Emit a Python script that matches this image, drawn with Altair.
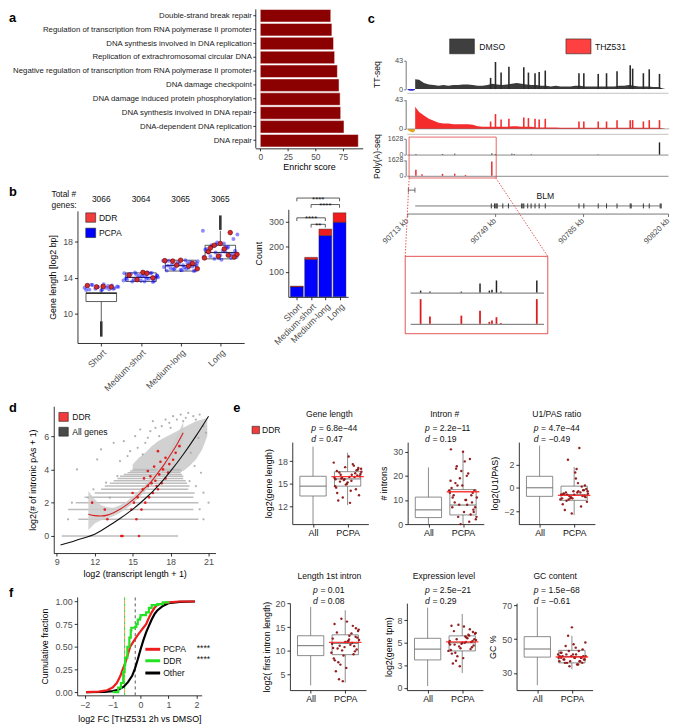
import altair as alt
import pandas as pd

W, H = 671, 719
FONT = "Liberation Sans"
DARKRED = "#8B0000"
RED = "#F23B3B"
BLUE = "#0000FF"
LBL = "#4D4D4D"
BOXC = "#6E6E6E"

# ---------------- panel a data ----------------
a_terms = ["Double-strand break repair",
           "Regulation of transcription from RNA polymerase II promoter",
           "DNA synthesis involved in DNA replication",
           "Replication of extrachromosomal circular DNA",
           "Negative regulation of transcription from RNA polymerase II promoter",
           "DNA damage checkpoint",
           "DNA damage induced protein phosphorylation",
           "DNA synthesis involved in DNA repair",
           "DNA-dependent DNA replication",
           "DNA repair"]
a_scores = [64, 65, 66.5, 67.5, 70, 71.5, 72.5, 73, 76, 89]

# ---------------- panel b data ----------------
b_cats = ["Short", "Medium-short", "Medium-long", "Long"]
b_totals = [3066, 3064, 3065, 3065]
b_whisk_lo = [9.2, 13.45, 14.65, 16.0]
b_q1 = [11.38, 13.6, 14.75, 16.1]
b_median = [12.28, 14.05, 15.35, 16.8]
b_q3 = [12.36, 14.55, 15.95, 17.6]
b_whisk_hi = [13.3, 14.65, 16.05, 19.2]
b_out_cat = [1, 4]
b_out_lo = [7.5, 19.3]
b_out_hi = [9.2, 20.9]
b_jit = [-0.42, -0.35, -0.3, -0.22, -0.15, -0.08, 0.0, 0.06, 0.12, 0.2, 0.27, 0.33, 0.4, -0.38, -0.25,
         -0.1, 0.03, 0.17, 0.3, 0.43, -0.32, -0.18, -0.04, 0.09, 0.24, 0.37, -0.44, -0.12, 0.14, 0.41]
b_short_y = [12.9, 13.1, 12.7, 13.2, 12.8, 13.0, 12.6, 13.3, 12.9, 12.75, 13.15, 12.85, 13.05, 12.65, 13.25,
             12.95, 12.7, 13.1, 12.8, 13.0]
b_mshort_y = [14.5, 13.8, 14.2, 13.6, 14.6, 14.0, 13.7, 14.4, 14.1, 13.9, 14.55, 13.65, 14.3, 13.95, 14.45,
              13.75, 14.15, 14.6, 13.55, 14.05, 14.35, 13.85, 14.25, 13.6, 14.5, 14.0, 13.7, 14.4, 13.9, 14.2]
b_mlong_y = [15.2, 14.8, 15.9, 15.5, 15.0, 15.7, 14.9, 15.4, 15.95, 15.1, 15.6, 14.75, 15.3, 15.8, 15.05,
             15.45, 14.85, 15.65, 15.25, 15.85, 15.35, 14.95, 15.55, 15.15, 15.75, 14.8, 15.9, 15.4, 15.0, 15.6]
b_long_y = [16.3, 17.2, 16.8, 17.6, 16.1, 17.9, 16.5, 17.0, 16.9, 17.4, 16.2, 18.3, 16.7, 17.1, 16.4,
            17.7, 16.0, 17.3, 16.6, 18.8, 16.9, 17.5, 16.2, 17.8, 16.5, 17.0, 19.2, 16.8, 17.4, 16.3]
b_ddr_cat = [1, 1, 1, 1, 2, 2, 2, 2, 2, 3, 3, 3, 3, 3, 3, 3, 4, 4, 4, 4, 4, 4, 4, 4, 4, 4, 4]
b_ddr_jit = [-0.35, 0.05, 0.25, -0.12, 0.05, 0.15, -0.3, 0.3, -0.1, -0.4, -0.2, 0.0, 0.3, 0.42, -0.1, 0.2,
             -0.4, -0.3, -0.15, 0.0, 0.2, 0.35, 0.1, 0.25, -0.05, 0.42, -0.25]
b_ddr_y = [13.15, 13.05, 13.0, 13.0, 14.6, 14.5, 14.3, 14.0, 13.8, 15.9, 15.85, 15.95, 15.6, 15.0, 15.4, 15.3,
           16.2, 16.9, 17.6, 17.8, 16.5, 16.3, 17.2, 19.0, 16.4, 16.6, 17.3]
bb_pcpa = [40, 150, 245, 298]
bb_ddr = [3, 8, 26, 38]
bb_sig_from = [1, 2, 1, 2]
bb_sig_to = [4, 4, 3, 3]
bb_sig_y = [395, 369, 316, 290]
bb_sig_lab = ["****", "****", "****", "**"]

# ---------------- panel c data ----------------
c_kb = [90716.4, 90718, 90720, 90722, 90724, 90726, 90728, 90730, 90732, 90734, 90736, 90738, 90740, 90742,
        90744, 90746, 90748, 90750, 90752, 90754, 90756, 90758, 90760, 90762, 90764, 90766, 90768, 90770,
        90772, 90774, 90776, 90778, 90780, 90782, 90784, 90786, 90788, 90790, 90792, 90794, 90796, 90798,
        90800, 90802, 90804, 90806, 90808, 90810, 90812, 90814, 90816, 90818, 90819]
c_dmso = [15, 14, 9, 7, 6, 5, 6, 5, 6, 6, 7, 7, 6, 5, 5, 6, 8, 7, 6, 7, 8, 9, 8, 7, 6, 6, 5, 5, 4, 5, 4, 4, 4,
          5, 5, 4, 4, 4, 4, 4, 4, 4, 5, 5, 6, 5, 4, 4, 4, 3, 3, 1, 0]
c_thz = [33, 25, 20, 15, 12, 9, 8, 8, 7, 7, 7, 7, 6, 4, 3, 3, 3, 3, 3, 3, 4, 4, 3, 3, 3, 2, 2, 2, 2, 2, 1.5,
         1.5, 1.5, 1.5, 1.5, 1.5, 1.5, 1.5, 1.5, 1.5, 1.5, 1.5, 1.5, 1.5, 1.5, 1.5, 1.5, 1.5, 1.5, 1.5, 1.5,
         0.5, 0]
c_as_kb = [90713.3, 90714.3, 90715.4, 90716.3]
c_as_dmso = [-1.5, -2.5, -2.5, -1.5]
c_as_thz = [-1.5, -4.0, -5.5, -3.0]
c_spike_kb = [90747.3, 90749.3, 90751.6, 90754.8, 90760.9, 90762.8, 90765.5, 90767.2, 90769.7, 90783.5,
              90785.5, 90791.4, 90794.8, 90799.1, 90804.5, 90805.5, 90809.9, 90812.3, 90816.5]
c_spike_dmso = [17, 41, 25, 34, 33, 25, 24, 26, 28, 24, 24, 23, 24, 27, 36, 31, 24, 30, 23]
c_spike_thz = [11, 22, 14, 15, 17, 16, 15, 14, 15, 11, 11, 11, 11, 13, 13, 13, 11, 13, 13]
c_pa_dmso_kb = [90716.7, 90727.6, 90732.6, 90747.8, 90749.3, 90756.0, 90757.0, 90764.0, 90791.4, 90816.5]
c_pa_dmso = [60, 60, 80, 120, 60, 80, 60, 40, 30, 1255]
c_pa_thz_kb = [90716.7, 90719.2, 90727.6, 90732.6, 90737.0, 90747.8]
c_pa_thz = [626, 150, 200, 220, 90, 1470]
c_exon_kb = [90747.6, 90748.9, 90750.0, 90752.3, 90754.6, 90760.0, 90762.5, 90763.9, 90765.5, 90767.2,
             90769.7, 90783.5, 90785.5, 90791.4, 90794.8, 90799.1, 90804.5, 90804.9, 90809.9, 90812.3]
c_exon_thick_kb = [90749.6, 90760.7, 90817.0]
c_gene = [90716.4, 90817.2]
c_zoom_kb = [90713.9, 90749.6]
c_in_kb = [90716.7, 90719.2, 90727.6, 90732.6, 90735.1, 90735.8, 90737.0, 90738.2, 90747.8]
c_in_dmso = [163, 81, 81, 757, 163, 244, 1001, 81, 1001]
c_in_thz = [1628, 475, 540, 866, 130, 215, 436, 60, 1628]
c_ticks = [90713, 90749, 90785, 90820]

# ---------------- panel d data ----------------
d_stripe_y = [0, 1, 1.585, 2, 2.322, 2.585, 2.807, 3, 3.17, 3.322, 3.459, 3.585, 3.7, 3.807, 3.907, 4.0]
d_stripe_x1 = [9.4, 10.7, 9.9, 10.5, 11.2, 12.0, 12.5, 12.8, 13.2, 13.5, 13.8, 14.0, 14.3, 14.6, 14.8, 15.0]
d_stripe_x2 = [18.6, 20.2, 19.8, 20.2, 19.8, 19.9, 19.4, 19.5, 19.3, 19.2, 19.0, 19.0, 18.9, 18.8, 18.9, 18.8]
d_cloud_x = [15.0, 15.5, 16.0, 16.5, 17.0, 17.5, 18.0, 18.5, 19.0, 19.5, 20.0, 20.5, 20.9]
d_cloud_lo = [3.9, 3.9, 3.9, 3.9, 3.9, 3.9, 3.9, 3.9, 3.9, 4.2, 4.6, 5.2, 6.0]
d_cloud_hi = [4.3, 4.7, 5.0, 5.4, 5.7, 5.9, 6.1, 6.3, 6.5, 6.7, 6.9, 7.0, 7.1]
d_gray_x = [10.6, 12.2, 12.5, 13.2, 11.5, 10.2, 9.9, 13.5, 14.3, 14.8, 15.2, 15.8, 16.0, 16.4, 16.8, 17.3,
            17.9, 18.5, 19.2, 19.8, 20.3, 20.6, 20.2, 20.8, 19.6, 19.9, 20.4, 19.5, 20.0, 20.6, 21.0, 20.3,
            20.6, 14.0, 14.6, 15.4, 16.2, 13.8, 12.9, 11.9, 15.6, 16.6, 17.6, 18.2, 18.8, 19.4, 17.1, 18.0,
            19.0, 20.0]
d_gray_y = [4.0, 4.6, 5.2, 2.3, 2.3, 2.0, 1.0, 5.6, 5.7, 5.1, 6.0, 4.9, 5.6, 6.3, 6.5, 6.6, 6.8, 7.0, 7.1,
            7.2, 7.3, 6.6, 5.9, 6.2, 5.0, 4.2, 3.8, 3.3, 3.0, 2.6, 2.0, 1.6, 1.0, 4.5, 4.8, 5.3, 5.9, 3.6,
            3.2, 2.8, 6.4, 6.9, 7.0, 7.2, 7.3, 7.4, 6.0, 6.5, 6.9, 7.0]
d_fit_x = [11.5, 12.0, 12.5, 13.0, 13.5, 14.0, 14.5, 15.0, 15.5, 16.0, 16.5, 17.0, 17.5, 18.0, 18.5, 19.0]
d_fit_y = [1.3, 1.22, 1.2, 1.25, 1.4, 1.6, 1.85, 2.15, 2.5, 2.9, 3.3, 3.8, 4.3, 4.9, 5.5, 6.2]
d_fit_lo = [0.35, 0.75, 0.95, 1.05, 1.2, 1.4, 1.65, 1.95, 2.3, 2.7, 3.1, 3.55, 4.0, 4.5, 5.0, 5.55]
d_fit_hi = [2.7, 2.2, 1.85, 1.72, 1.7, 1.85, 2.05, 2.35, 2.7, 3.1, 3.55, 4.05, 4.6, 5.3, 6.0, 6.85]
d_all_x = [9.3, 10, 11, 12, 13, 14, 15, 16, 17, 18, 19, 20, 21]
d_all_y = [-0.55, -0.4, -0.15, 0.1, 0.55, 1.05, 1.6, 2.25, 3.0, 3.9, 4.9, 6.0, 7.2]
d_ddr_x = [14.1, 14.2, 15.5, 13.0, 15.3, 11.8, 14.9, 15.7, 15.1, 16.0, 15.4, 16.3, 15.0, 16.6, 15.8, 17.0,
           16.2, 16.9, 16.5, 17.3, 16.8, 17.6, 16.4, 17.1, 17.8, 17.4, 16.7, 17.9, 17.2, 18.2, 17.6, 18.4,
           17.0, 16.2, 18.7, 15.9, 12.8]
d_ddr_y = [0, 0, 0, 1, 1, 2, 1.585, 1.585, 2, 2, 2.322, 2.322, 2.585, 2.585, 2.807, 2.807, 3, 3, 3.17, 3.17,
           3.322, 3.459, 3.585, 3.7, 3.807, 4, 4.17, 4.32, 4.46, 4.58, 4.7, 5.0, 5.1, 3.907, 5.4, 3.459, 1.585]

# ---------------- panel e data ----------------
e_titles = ["Gene length", "Intron #", "U1/PAS ratio", "Length 1st intron", "Expression level", "GC content"]
e_ytitles = ["log2(gene length)", "# introns", "log2(U1/PAS)", "log2( first intron length)",
             "log2(gene tpm)", "GC %"]
e_p = ["6.8e\u221244", "2.2e\u221211", "4.7e\u221244", "0.01", "2.5e\u221221", "1.5e\u221268"]
e_d = ["0.47", "0.19", "\u22120.49", "0.08", "0.29", "\u22120.61"]
e_domains = [[9.7, 20.5], [0, 34], [-3.1, 3.9], [1.7, 20.1], [-0.25, 9.4], [19.9, 71.3]]
e_ticks = [[12, 15, 18], [0, 10, 20, 30], [-2, 0, 2], [5, 10, 15, 20], [0, 2.5, 5, 7.5], [30, 50, 70]]
e_all = [[9.7, 13.4, 14.7, 16.0, 19.9], [0, 2.7, 5.9, 11.2, 23.5], [-3.1, -0.73, 0.0, 0.98, 3.6],
         [2.7, 9.0, 11.1, 13.2, 19.3], [0.2, 3.1, 4.3, 5.5, 8.9], [22.8, 39.4, 44.2, 51.5, 69.0]]
e_pcpa = [[12.2, 14.7, 15.65, 16.6, 19.1], [0, 3.8, 7.9, 14.3, 29.6], [-2.33, -1.07, -0.59, 0.14, 1.78],
          [3.3, 9.2, 11.6, 13.4, 18.6], [1.65, 4.1, 5.0, 5.77, 8.2], [32.3, 36.0, 39.8, 43.4, 52.0]]
e_mean = [15.95, 13.4, -0.65, 11.8, 5.1, 39.5]
e_jit = [-0.38, 0.12, -0.05, 0.31, -0.22, 0.4, -0.14, 0.05, 0.26, -0.33, 0.18, -0.09, 0.35, -0.27, 0.0,
         0.22, -0.4, 0.09, -0.18, 0.3, -0.02, 0.37, -0.3, 0.15, -0.11, 0.28, -0.36, 0.03, 0.2, -0.24,
         0.33, -0.07, 0.11, -0.31, 0.24, -0.16, 0.39, -0.2, 0.07, -0.35]
e_pts_gene = [15.8, 16.2, 14.9, 17.1, 15.3, 16.6, 13.2, 15.9, 16.8, 14.5, 17.4, 15.6, 16.0, 12.8, 15.2,
              16.4, 17.8, 14.1, 15.7, 16.9, 15.0, 16.3, 13.8, 17.6, 15.5, 16.1, 14.7, 18.6, 15.9, 16.5,
              13.5, 17.2, 15.4, 16.7, 14.3, 15.8, 17.0, 16.2, 12.5, 15.6]
e_pts_intron = [13, 8, 22, 5, 17, 11, 3, 26, 9, 15, 1, 19, 7, 12, 30, 4, 14, 10, 24, 6, 16, 2, 11, 21, 8,
                13, 18, 5, 27, 9, 14, 0, 20, 7, 12, 16, 3, 23, 10, 31]
e_pts_u1 = [-0.6, -0.3, -0.9, 0.2, -1.1, -0.5, -0.7, 0.8, -0.2, -1.4, -0.4, -0.8, -0.1, -1.9, -0.6, 0.1,
            -1.0, -0.4, 2.4, -0.7, -0.3, -1.2, -0.5, 3.4, -0.9, -0.2, -0.6, 1.3, -1.6, -0.4, -0.8, -2.2,
            0.4, -0.5, -0.7, -1.0, -0.3, -0.6, 1.6, -0.9]
e_pts_first = [11.5, 13.2, 9.0, 14.8, 10.5, 12.3, 7.1, 16.2, 11.0, 8.4, 13.7, 10.1, 12.8, 5.7, 11.9, 15.3,
               9.6, 12.1, 4.0, 13.0, 10.8, 14.2, 8.0, 11.3, 16.8, 9.9, 12.6, 6.4, 11.7, 13.9, 10.3, 3.6,
               12.4, 15.7, 9.3, 11.1, 14.5, 7.6, 12.0, 10.6]
e_pts_expr = [5.0, 5.6, 4.4, 6.2, 4.8, 5.3, 3.5, 6.8, 5.1, 4.2, 5.9, 4.6, 5.4, 2.7, 5.0, 6.5, 4.1, 5.7, 3.0,
              5.2, 4.9, 6.0, 3.8, 5.5, 7.0, 4.5, 5.2, 3.3, 5.8, 6.3, 4.7, 2.4, 5.1, 6.9, 4.3, 5.4, 6.1, 3.9,
              5.0, 4.8]
e_pts_gc = [39, 41, 37, 44, 38, 40, 36, 47, 39, 42, 35, 43, 38, 40, 57, 37, 41, 39, 46, 36, 40, 38, 42, 35,
            52, 39, 37, 41, 43, 38, 40, 34, 45, 39, 37, 41, 48, 36, 39, 40]

# ---------------- panel f data ----------------
f_pcpa_x = [-1.95, -1.5, -1.2, -1.0, -0.85, -0.72, -0.64, -0.55, -0.45, -0.37, -0.25, -0.12, 0.0, 0.1, 0.2,
            0.3, 0.4, 0.5, 0.6, 0.8, 1.0, 1.4, 1.95]
f_pcpa_y = [0.0, 0.005, 0.02, 0.05, 0.1, 0.18, 0.25, 0.32, 0.42, 0.5, 0.56, 0.62, 0.67, 0.71, 0.75, 0.82,
            0.88, 0.93, 0.96, 0.98, 0.99, 1.0, 1.0]
f_ddr_x = [-1.0, -0.8, -0.7, -0.62, -0.57, -0.55, -0.47, -0.4, -0.35, -0.33, -0.2, -0.15, -0.1, -0.02, 0.0,
           0.2, 0.3, 0.4, 0.6, 0.8, 1.0]
f_ddr_y = [0.0, 0.05, 0.1, 0.22, 0.3, 0.38, 0.5, 0.6, 0.68, 0.71, 0.72, 0.75, 0.8, 0.82, 0.85, 0.88, 0.93,
           0.96, 0.97, 0.99, 1.0]
f_other_x = [-1.95, -1.3, -1.0, -0.8, -0.6, -0.45, -0.3, -0.2, -0.1, 0.0, 0.1, 0.2, 0.3, 0.4, 0.5, 0.6, 0.8,
             1.0, 1.4, 1.95]
f_other_y = [0.0, 0.002, 0.01, 0.025, 0.06, 0.11, 0.18, 0.26, 0.36, 0.47, 0.57, 0.66, 0.73, 0.8, 0.86, 0.9,
             0.95, 0.98, 0.995, 1.0]
f_median_pcpa = -0.57
f_median_other = -0.19


# ================= helpers =================
def X(v):
    return v - 8


def Y(v):
    return v - 8


def sx(domain, left, right):
    return alt.Scale(domain=domain, range=[X(left), X(right)], nice=False, zero=False)


def sy(domain, bottom, top):
    return alt.Scale(domain=domain, range=[Y(bottom), Y(top)], nice=False, zero=False)


def xaxis(at, **kw):
    kw.setdefault("title", None)
    return alt.Axis(orient="bottom", offset=Y(at) - H, **kw)


def yaxis(at, **kw):
    kw.setdefault("title", None)
    return alt.Axis(orient="left", offset=-X(at), **kw)


def XQ(f, sc, ax):
    return alt.X(f, type="quantitative", scale=sc, axis=ax)


def YQ(f, sc, ax):
    return alt.Y(f, type="quantitative", scale=sc, axis=ax)


def texts(rows, **mark):
    df = pd.DataFrame(rows, columns=["px", "py", "t"])
    df["px"] = df["px"] - 8
    df["py"] = df["py"] - 8
    mark.setdefault("fontSize", 8.5)
    mark.setdefault("baseline", "middle")
    return alt.Chart(df).mark_text(font=FONT, **mark).encode(
        x=alt.X("px:Q", scale=None, axis=None), y=alt.Y("py:Q", scale=None, axis=None), text="t:N")


def boxes(rows, **mark):
    df = pd.DataFrame(rows, columns=["x1", "x2", "y1", "y2", "f"])
    for c in ["x1", "x2", "y1", "y2"]:
        df[c] = df[c] - 8
    return alt.Chart(df).mark_rect(**mark).encode(
        x=alt.X("x1:Q", scale=None, axis=None), x2="x2",
        y=alt.Y("y1:Q", scale=None, axis=None), y2="y2",
        fill=alt.Fill("f:N", scale=None, legend=None))


def segs(rows, **mark):
    df = pd.DataFrame(rows, columns=["x1", "y1", "x2", "y2", "c"])
    for c in ["x1", "x2", "y1", "y2"]:
        df[c] = df[c] - 8
    return alt.Chart(df).mark_rule(**mark).encode(
        x=alt.X("x1:Q", scale=None, axis=None), x2="x2",
        y=alt.Y("y1:Q", scale=None, axis=None), y2="y2",
        color=alt.Color("c:N", scale=None, legend=None))


children = []

# ================= panel a =================
dfa = pd.DataFrame({"term": a_terms, "score": a_scores, "base": 0})
a_xs = sx([-4.5, 93], 258.3, 367)
a_ax = xaxis(145.7, values=[0, 25, 50, 75], title="Enrichr score", titlePadding=2, tickSize=2.5,
             labelPadding=1.5)
a_ay = yaxis(258.3, labelFontSize=7.9, labelColor="#1a1a1a", tickSize=2.5, labelPadding=1.5, labelLimit=400)
children.append(alt.Chart(dfa).mark_bar(color=DARKRED, stroke="white", strokeWidth=0.5).encode(
    x=XQ("score", a_xs, a_ax), x2="base",
    y=alt.Y("term:N", sort=a_terms,
            scale=alt.Scale(domain=a_terms, range=[Y(4.5), Y(145)], paddingInner=0.1, paddingOuter=0.05),
            axis=a_ay)))

# ================= panel b (box + jitter) =================
b_xs = sx([0.4, 4.6], 78.3, 247)
b_ys = sy([6.8, 21.4], 342.7, 209)
b_ax = xaxis(342.7, values=[1, 2, 3, 4],
             labelExpr="['','Short','Medium-short','Medium-long','Long'][datum.value]",
             labelAngle=-45, labelAlign="right", labelBaseline="top", labelFontSize=9)
b_ay = yaxis(78.3, values=[10, 14, 18], title="Gene length [log2 bp]", labelFontSize=9, titlePadding=5)
dfb = pd.DataFrame({"i": [1, 2, 3, 4], "lo": b_whisk_lo, "q1": b_q1, "med": b_median, "q3": b_q3,
                    "hi": b_whisk_hi, "n": [str(v) for v in b_totals]})
dfb["xl"] = dfb["i"] - 0.385
dfb["xr"] = dfb["i"] + 0.385
dfo = pd.DataFrame({"i": b_out_cat, "lo": b_out_lo, "hi": b_out_hi})
rows = []
for k, ys in enumerate([b_short_y, b_mshort_y, b_mlong_y, b_long_y], start=1):
    for j, v in enumerate(ys):
        rows.append({"x": k + b_jit[j], "y": v})
dfbp = pd.DataFrame(rows)
dfbd = pd.DataFrame({"x": [c + j for c, j in zip(b_ddr_cat, b_ddr_jit)], "y": b_ddr_y})
children.append(alt.layer(
    alt.Chart(dfb).mark_rule(color="#333", strokeWidth=0.8).encode(
        x=XQ("i", b_xs, b_ax), y=YQ("lo", b_ys, b_ay), y2="hi"),
    alt.Chart(dfo).mark_rule(color="#111", strokeWidth=2.6, opacity=0.85).encode(
        x=XQ("i", b_xs, b_ax), y=YQ("lo", b_ys, b_ay), y2="hi"),
    alt.Chart(dfb).mark_rect(fill="white", stroke="#333", strokeWidth=0.8).encode(
        x=XQ("xl", b_xs, b_ax), x2="xr", y=YQ("q1", b_ys, b_ay), y2="q3"),
    alt.Chart(dfb).mark_rule(color="#333", strokeWidth=1.2).encode(
        x=XQ("xl", b_xs, b_ax), x2="xr", y=YQ("med", b_ys, b_ay)),
    alt.Chart(dfbp).mark_circle(size=16, color=BLUE, opacity=0.45).encode(
        x=XQ("x", b_xs, b_ax), y=YQ("y", b_ys, b_ay)),
    alt.Chart(dfbd).mark_point(filled=True, size=22, fill="#D42A2A", stroke="#6A0000", strokeWidth=0.6,
                                opacity=1).encode(
        x=XQ("x", b_xs, b_ax), y=YQ("y", b_ys, b_ay)),
    alt.Chart(dfb).mark_text(font=FONT, fontSize=8.5, color="#111").encode(
        x=XQ("i", b_xs, b_ax), y=alt.value(Y(196.7)), text="n:N"),
))

# ---- panel b bar chart ----
bb_xs = sx([0.4, 4.6], 291.7, 352.2)
bb_ys = sy([0, 350], 296, 207.4)
bb_ax = xaxis(296, values=[1, 2, 3, 4],
              labelExpr="['','Short','Medium-short','Medium-long','Long'][datum.value]",
              labelAngle=-45, labelAlign="right", labelBaseline="top", labelFontSize=9)
bb_ay = yaxis(291.7, values=[100, 200, 300], title="Count", labelFontSize=9, titlePadding=5)
rows = []
for k in range(4):
    rows.append({"i": k + 1, "lo": 0, "hi": bb_pcpa[k], "g": BLUE})
    rows.append({"i": k + 1, "lo": bb_pcpa[k], "hi": bb_pcpa[k] + bb_ddr[k], "g": "#EE1C1C"})
dfbb = pd.DataFrame(rows)
dfbb["xl"] = dfbb["i"] - 0.45
dfbb["xr"] = dfbb["i"] + 0.45
dfs = pd.DataFrame({"a": bb_sig_from, "b": bb_sig_to, "y": bb_sig_y, "lab": bb_sig_lab})
dfs["ytick"] = dfs["y"] - 13
dfs["mid"] = (dfs["a"] + dfs["b"]) / 2
children.append(alt.layer(
    alt.Chart(dfbb).mark_rect(stroke="#222", strokeWidth=0.4).encode(
        x=XQ("xl", bb_xs, bb_ax), x2="xr", y=YQ("lo", bb_ys, bb_ay), y2="hi",
        fill=alt.Fill("g:N", scale=None, legend=None)),
    alt.Chart(dfs).mark_rule(color="#333", strokeWidth=0.8).encode(
        x=XQ("a", bb_xs, bb_ax), x2="b", y=YQ("y", bb_ys, bb_ay)),
    alt.Chart(dfs).mark_rule(color="#333", strokeWidth=0.8).encode(
        x=XQ("a", bb_xs, bb_ax), y=YQ("y", bb_ys, bb_ay), y2="ytick"),
    alt.Chart(dfs).mark_rule(color="#333", strokeWidth=0.8).encode(
        x=XQ("b", bb_xs, bb_ax), y=YQ("y", bb_ys, bb_ay), y2="ytick"),
    alt.Chart(dfs).mark_text(font=FONT, fontSize=8, baseline="alphabetic", dy=3.5, color="#111").encode(
        x=XQ("mid", bb_xs, bb_ax), y=YQ("y", bb_ys, bb_ay), text="lab:N"),
))

# ================= panel c =================
def c_xs():
    return sx([90713, 90820], 411.7, 676)


noax = None
df_t = pd.DataFrame({"kb": c_kb, "d": c_dmso, "t": c_thz, "z": 0})
df_as = pd.DataFrame({"kb": c_as_kb, "d": c_as_dmso, "t": c_as_thz, "z": 0})
df_sp = pd.DataFrame({"kb": c_spike_kb, "d": c_spike_dmso, "t": c_spike_thz, "z": 0})


def track_yaxis(vals, fs):
    return yaxis(410.5, values=vals, format="d", labelFontSize=fs, tickSize=2, labelPadding=1,
                 domainColor="#555", tickColor="#555")


# track 1 (DMSO TT-seq)
t1y = sy([0, 43], 85.7, 57)
t1ay = track_yaxis([0, 43], 7.5)
t1ax = xaxis(89.5, labels=False, ticks=False, domainColor="#999", domainWidth=0.6)
children.append(alt.layer(
    alt.Chart(df_t).mark_area(color="#3A3A3A").encode(x=XQ("kb", c_xs(), t1ax), y=YQ("d", t1y, t1ay), y2="z"),
    alt.Chart(df_as).mark_area(color="#2B2BD0").encode(x=XQ("kb", c_xs(), t1ax), y=YQ("d", t1y, t1ay), y2="z"),
    alt.Chart(df_sp).mark_rule(color="#2A2A2A", strokeWidth=1.6).encode(
        x=XQ("kb", c_xs(), t1ax), y=YQ("z", t1y, t1ay), y2="d"),
))
# track 2 (THZ531 TT-seq)
t2y = sy([0, 43], 126, 96.7)
t2ay = track_yaxis([0, 43], 7.5)
t2ax = xaxis(131, labels=False, ticks=False, domainColor="#999", domainWidth=0.6)
children.append(alt.layer(
    alt.Chart(df_t).mark_area(color="#F42C2C").encode(x=XQ("kb", c_xs(), t2ax), y=YQ("t", t2y, t2ay), y2="z"),
    alt.Chart(df_as).mark_area(color="#E6A820").encode(x=XQ("kb", c_xs(), t2ax), y=YQ("t", t2y, t2ay), y2="z"),
    alt.Chart(df_sp).mark_rule(color="#F42C2C", strokeWidth=1.6).encode(
        x=XQ("kb", c_xs(), t2ax), y=YQ("z", t2y, t2ay), y2="t"),
    alt.Chart(pd.DataFrame({"kb": [90713.2, 90820.5], "z": 0})).mark_line(color="#777", strokeWidth=0.6).encode(
        x=XQ("kb", c_xs(), t2ax), y=YQ("z", t2y, t2ay)),
))
# track 3 (DMSO polyA)
t3y = sy([0, 1628], 152, 136)
t3ay = track_yaxis([0, 1628], 7)
t3ax = xaxis(152, labels=False, ticks=False, domainColor="#555", domainWidth=0.7)
df_p3 = pd.DataFrame({"kb": c_pa_dmso_kb, "v": c_pa_dmso, "z": 0})
children.append(alt.layer(
    alt.Chart(df_p3).mark_rule(color="#222", strokeWidth=1.4).encode(
        x=XQ("kb", c_xs(), t3ax), y=YQ("z", t3y, t3ay), y2="v"),
))
# track 4 (THZ polyA) + zoom box
t4y = sy([0, 1628], 173.5, 157.5)
t4ay = track_yaxis([0, 1628], 7)
t4ax = xaxis(173.5, labels=False, ticks=False, domainColor="#555", domainWidth=0.7)
df_p4 = pd.DataFrame({"kb": c_pa_thz_kb, "v": c_pa_thz, "z": 0})
df_zb = pd.DataFrame({"a": [c_zoom_kb[0]], "b": [c_zoom_kb[1]]})
children.append(alt.layer(
    alt.Chart(df_p4).mark_rule(color="#E02020", strokeWidth=1.4).encode(
        x=XQ("kb", c_xs(), t4ax), y=YQ("z", t4y, t4ay), y2="v"),
    alt.Chart(df_zb).mark_rect(fillOpacity=0, fill="white", stroke="#E04040", strokeWidth=0.8).encode(
        x=XQ("a", c_xs(), t4ax), x2="b", y=alt.value(Y(134.3)), y2=alt.value(Y(175.7))),
))
# gene model + genomic axis
g_ax = xaxis(211.7, values=c_ticks, labelExpr="format(datum.value, 'd') + ' kb'", labelAngle=-45,
             labelAlign="right", labelBaseline="middle", labelPadding=3, labelFontSize=8, tickSize=3,
             domainColor="#555", tickColor="#555")
df_gene = pd.DataFrame({"a": [c_gene[0]], "b": [c_gene[1]]})
df_ex = pd.DataFrame({"kb": c_exon_kb})
df_ext = pd.DataFrame({"kb": c_exon_thick_kb})
df_small = pd.DataFrame({"a": [90713.6], "b": [90716.3]})
children.append(alt.layer(
    alt.Chart(df_gene).mark_rule(color="#555", strokeWidth=0.8).encode(
        x=XQ("a", c_xs(), g_ax), x2="b", y=alt.value(Y(204))),
    alt.Chart(df_ex).mark_rule(color="#333", strokeWidth=1).encode(
        x=XQ("kb", c_xs(), g_ax), y=alt.value(Y(201.5)), y2=alt.value(Y(206.5))),
    alt.Chart(df_ext).mark_rule(color="#555", strokeWidth=2.2).encode(
        x=XQ("kb", c_xs(), g_ax), y=alt.value(Y(201.5)), y2=alt.value(Y(206.5))),
    alt.Chart(df_small).mark_rule(color="#444", strokeWidth=0.8).encode(
        x=XQ("a", c_xs(), g_ax), x2="b", y=alt.value(Y(188))),
    alt.Chart(df_small).mark_rule(color="#444", strokeWidth=0.8).encode(
        x=XQ("a", c_xs(), g_ax), y=alt.value(Y(185.5)), y2=alt.value(Y(190.5))),
    alt.Chart(df_small).mark_rule(color="#444", strokeWidth=0.8).encode(
        x=XQ("b", c_xs(), g_ax), y=alt.value(Y(185.5)), y2=alt.value(Y(190.5))),
))
# inset
df_in = pd.DataFrame({"kb": c_in_kb, "d": c_in_dmso, "t": c_in_thz, "z": 0})
in_xs = sx(c_zoom_kb, 415, 550)
in1y = sy([0, 1628], 291.7, 271.7)
in2y = sy([0, 1628], 323.3, 298.3)
in1ax = xaxis(291.7, labels=False, ticks=False, domainColor="#444", domainWidth=0.8)
in2ax = xaxis(323.3, labels=False, ticks=False, domainColor="#444", domainWidth=0.8)
children.append(alt.Chart(df_in).mark_rule(color="#222", strokeWidth=1.5).encode(
    x=XQ("kb", in_xs, in1ax), y=YQ("z", in1y, noax), y2="d"))
children.append(alt.Chart(df_in).mark_rule(color="#D81E1E", strokeWidth=1.8).encode(
    x=XQ("kb", sx(c_zoom_kb, 415, 550), in2ax), y=YQ("z", in2y, noax), y2="t"))
children.append(boxes([(410, 554.3, 255, 333.3, "white")], fillOpacity=0, stroke="#E04040", strokeWidth=0.9))
children.append(segs([(414, 175.7, 410, 255, "#E04040"), (501.7, 175.7, 554.3, 255, "#E04040")],
                     strokeDash=[1.5, 1.5], strokeWidth=0.9))

# ================= panel d =================
d_xs = sx([8.765, 21.55], 54.3, 218)
d_ys = sy([-1.03, 7.8], 555.3, 406.7)
d_ax = xaxis(555.3, values=[9, 12, 15, 18, 21], title="log2 (transcript length + 1)", labelFontSize=9,
             titlePadding=3)
d_ay = yaxis(54.3, values=[0, 2, 4, 6], title="log2(# of intronic pAs + 1)", labelFontSize=9, titlePadding=6)
df_st = pd.DataFrame({"y": d_stripe_y, "a": d_stripe_x1, "b": d_stripe_x2})
df_cl = pd.DataFrame({"x": d_cloud_x, "lo": d_cloud_lo, "hi": d_cloud_hi})
df_g = pd.DataFrame({"x": d_gray_x, "y": d_gray_y})
df_fit = pd.DataFrame({"x": d_fit_x, "y": d_fit_y, "lo": d_fit_lo, "hi": d_fit_hi})
df_all = pd.DataFrame({"x": d_all_x, "y": d_all_y})
df_dd = pd.DataFrame({"x": d_ddr_x, "y": d_ddr_y})
children.append(alt.layer(
    alt.Chart(df_cl).mark_area(color="#C2C2C2", opacity=0.75).encode(
        x=XQ("x", d_xs, d_ax), y=YQ("lo", d_ys, d_ay), y2="hi"),
    alt.Chart(df_st).mark_rule(color="#BDBDBD", strokeWidth=1.5).encode(
        x=XQ("a", d_xs, d_ax), x2="b", y=YQ("y", d_ys, d_ay)),
    alt.Chart(df_g).mark_circle(size=5, color="#A8A8A8", opacity=0.9).encode(
        x=XQ("x", d_xs, d_ax), y=YQ("y", d_ys, d_ay)),
    alt.Chart(df_fit).mark_area(color="#CDCDCD", opacity=0.85).encode(
        x=XQ("x", d_xs, d_ax), y=YQ("lo", d_ys, d_ay), y2="hi"),
    alt.Chart(df_dd).mark_circle(size=7, color="#E02020", opacity=1).encode(
        x=XQ("x", d_xs, d_ax), y=YQ("y", d_ys, d_ay)),
    alt.Chart(df_fit).mark_line(color="#D42020", strokeWidth=1.1, interpolate="monotone").encode(
        x=XQ("x", d_xs, d_ax), y=YQ("y", d_ys, d_ay)),
    alt.Chart(df_all).mark_line(color="#111", strokeWidth=1.1, interpolate="monotone").encode(
        x=XQ("x", d_xs, d_ax), y=YQ("y", d_ys, d_ay)),
))

# ================= panel e =================
e_pts = [e_pts_gene, e_pts_intron, e_pts_u1, e_pts_first, e_pts_expr, e_pts_gc]
e_axis_x = [295.7, 412.5, 525, 293.3, 411.7, 522.7]
e_rows = [(443, 526), (606, 694)]
e_title_cx = [333.3, 450, 563.3, 333.3, 449.3, 561.7]
e_pd_x = [315, 430, 540, 316.7, 430, 540]
e_title_y = [415, 415, 415, 579, 579, 579]


def e_panel(k):
    ax0 = e_axis_x[k]
    top, bottom = e_rows[k // 3]
    xs = sx([0.4, 2.6], ax0, ax0 + 77)
    ys = sy(e_domains[k], bottom, top)
    xax = xaxis(bottom, values=[1, 2], labelExpr="datum.value == 1 ? 'All' : 'PCPA'", labelColor="#111",
                labelFontSize=9)
    yax = yaxis(ax0, values=e_ticks[k], title=e_ytitles[k], labelFontSize=9, titlePadding=4)
    st = pd.DataFrame({"i": [1, 2],
                       "lo": [e_all[k][0], e_pcpa[k][0]], "q1": [e_all[k][1], e_pcpa[k][1]],
                       "med": [e_all[k][2], e_pcpa[k][2]], "q3": [e_all[k][3], e_pcpa[k][3]],
                       "hi": [e_all[k][4], e_pcpa[k][4]]})
    st["xl"] = st["i"] - 0.38
    st["xr"] = st["i"] + 0.38
    pts = pd.DataFrame({"x": [2 + j for j in e_jit], "y": e_pts[k]})
    mn = pd.DataFrame({"xl": [1.53], "xr": [2.47], "m": [e_mean[k]]})
    return alt.layer(
        alt.Chart(st).mark_rule(color=BOXC, strokeWidth=0.8).encode(
            x=XQ("i", xs, xax), y=YQ("lo", ys, yax), y2="hi"),
        alt.Chart(st).mark_rect(fill="white", stroke=BOXC, strokeWidth=0.8).encode(
            x=XQ("xl", xs, xax), x2="xr", y=YQ("q1", ys, yax), y2="q3"),
        alt.Chart(st).mark_rule(color=BOXC, strokeWidth=1.0).encode(
            x=XQ("xl", xs, xax), x2="xr", y=YQ("med", ys, yax)),
        alt.Chart(pts).mark_circle(size=6, color="#8E1414", opacity=0.95).encode(
            x=XQ("x", xs, xax), y=YQ("y", ys, yax)),
        alt.Chart(mn).mark_rule(color="#FF1A1A", strokeWidth=1.4, opacity=0.85).encode(
            x=XQ("xl", xs, xax), x2="xr", y=YQ("m", ys, yax)),
    )


for k in range(6):
    children.append(e_panel(k))

e_text_rows = []
e_ital_rows = []
e_pd_rows = []
for k in range(6):
    e_text_rows.append((e_title_cx[k], e_title_y[k], e_titles[k]))
    e_ital_rows.append((e_pd_x[k], e_title_y[k] + 13.3, "p"))
    e_ital_rows.append((e_pd_x[k], e_title_y[k] + 24.5, "d"))
    e_pd_rows.append((e_pd_x[k] + 7.5, e_title_y[k] + 13.3, "= " + e_p[k]))
    e_pd_rows.append((e_pd_x[k] + 7.5, e_title_y[k] + 24.5, "= " + e_d[k]))
children.append(texts(e_text_rows, fontSize=8.7, align="center", color="#111"))
children.append(texts(e_ital_rows, fontSize=8.7, align="left", fontStyle="italic", color="#111"))
children.append(texts(e_pd_rows, fontSize=8.7, align="left", color="#111"))

# ================= panel f =================
f_xs = sx([-2.27, 2.19], 78, 204)
f_ys = sy([-0.036, 1.05], 699.3, 599.7)
f_ax = xaxis(699.3, values=[-2, -1, 0, 1, 2], title="log2 FC [THZ531 2h vs DMSO]", labelFontSize=9,
             titlePadding=5)
f_ay = yaxis(78, values=[0, 0.25, 0.5, 0.75, 1.0], format=".2f", title="Cumulative fraction", labelFontSize=9,
             titlePadding=5)
df_fo = pd.DataFrame({"x": f_other_x, "y": f_other_y})
df_fp = pd.DataFrame({"x": f_pcpa_x, "y": f_pcpa_y})
df_fd = pd.DataFrame({"x": f_ddr_x, "y": f_ddr_y})
df_vl = pd.DataFrame({"x": [f_median_pcpa], "y1": [-0.036], "y2": [1.05]})
df_vo = pd.DataFrame({"x": [f_median_other], "y1": [-0.036], "y2": [1.05]})
children.append(alt.layer(
    alt.Chart(df_vl).mark_rule(color="#2ECC40", strokeWidth=1, strokeDash=[3, 3]).encode(
        x=XQ("x", f_xs, f_ax), y=YQ("y1", f_ys, f_ay), y2="y2"),
    alt.Chart(df_vl).mark_rule(color="#E8A030", strokeWidth=1, strokeDash=[3, 3], strokeDashOffset=3).encode(
        x=XQ("x", f_xs, f_ax), y=YQ("y1", f_ys, f_ay), y2="y2"),
    alt.Chart(df_vo).mark_rule(color="#555", strokeWidth=1, strokeDash=[3, 3]).encode(
        x=XQ("x", f_xs, f_ax), y=YQ("y1", f_ys, f_ay), y2="y2"),
    alt.Chart(df_fo).mark_line(color="#000", strokeWidth=2.2).encode(
        x=XQ("x", f_xs, f_ax), y=YQ("y", f_ys, f_ay)),
    alt.Chart(df_fp).mark_line(color="#EE1C1C", strokeWidth=2.2).encode(
        x=XQ("x", f_xs, f_ax), y=YQ("y", f_ys, f_ay)),
    alt.Chart(df_fd).mark_line(color="#22E222", strokeWidth=2.2, interpolate="step-after").encode(
        x=XQ("x", f_xs, f_ax), y=YQ("y", f_ys, f_ay)),
))

# ================= annotations: letters, legends, labels =================
children.append(texts([(9, 14, "a"), (9, 190, "b"), (372, 15, "c"), (9, 409, "d"), (236, 409, "e"),
                       (9, 596, "f")], fontSize=13, fontWeight="bold", align="left", color="#000"))
children.append(texts([(52, 191.7, "Total #"), (52, 202.7, "genes:")], fontSize=8.5, align="left",
                      color="#111"))
children.append(boxes([(86.7, 96.7, 211, 220.5, "#F23B3B"), (86.7, 96.7, 226.5, 236, BLUE),
                       (455, 480, 35, 50, "#3F3F3F"), (572.7, 598, 35, 50, "#FF4040"),
                       (59.5, 69, 413, 422, "#F23B3B"), (59.5, 69, 428, 437, "#4A4A4A"),
                       (255, 262.5, 427, 434.5, "#F23B3B")],
                      stroke="#222", strokeWidth=0.6))
children.append(texts([(100, 216, "DDR"), (100, 231.5, "PCPA"), (485, 43, "DMSO"), (602, 43, "THZ531"),
                       (73, 418, "DDR"), (73, 432.5, "All genes"), (265, 431, "DDR"), (543, 194, "BLM")],
                      fontSize=8.7, align="left", color="#111"))
children.append(texts([(381, 71, "TT-seq"), (381, 154, "Poly(A)-seq")], fontSize=8.7, align="center",
                      angle=270, color="#111"))
children.append(segs([(147, 652.7, 162, 652.7, "#EE1C1C"), (147, 664.3, 162, 664.3, "#22E222"),
                      (147, 676.7, 162, 676.7, "#000")], strokeWidth=3))
children.append(texts([(165, 652.7, "PCPA"), (165, 664.3, "DDR"), (165, 676.7, "Other"),
                       (199, 651.5, "****"), (199, 663, "****")], fontSize=8.7, align="left", color="#111"))

chart = alt.layer(*children).resolve_scale(x="independent", y="independent").properties(
    width=W, height=H, autosize=alt.AutoSizeParams(type="none"), padding=0
).configure_view(stroke=None).configure_axis(
    labelFont=FONT, titleFont=FONT, labelFontSize=8.5, titleFontSize=9, labelColor=LBL, titleColor="#000",
    titleFontWeight="normal", domainColor="#000", tickColor="#000", domainWidth=0.8, tickWidth=0.8,
    tickSize=3, labelPadding=2, titlePadding=4, grid=False, labelFlush=False, labelOverlap=False,
    labelBound=False
).configure_text(font=FONT)

chart.save("out.html", embed_options={"renderer": "svg", "actions": False})
